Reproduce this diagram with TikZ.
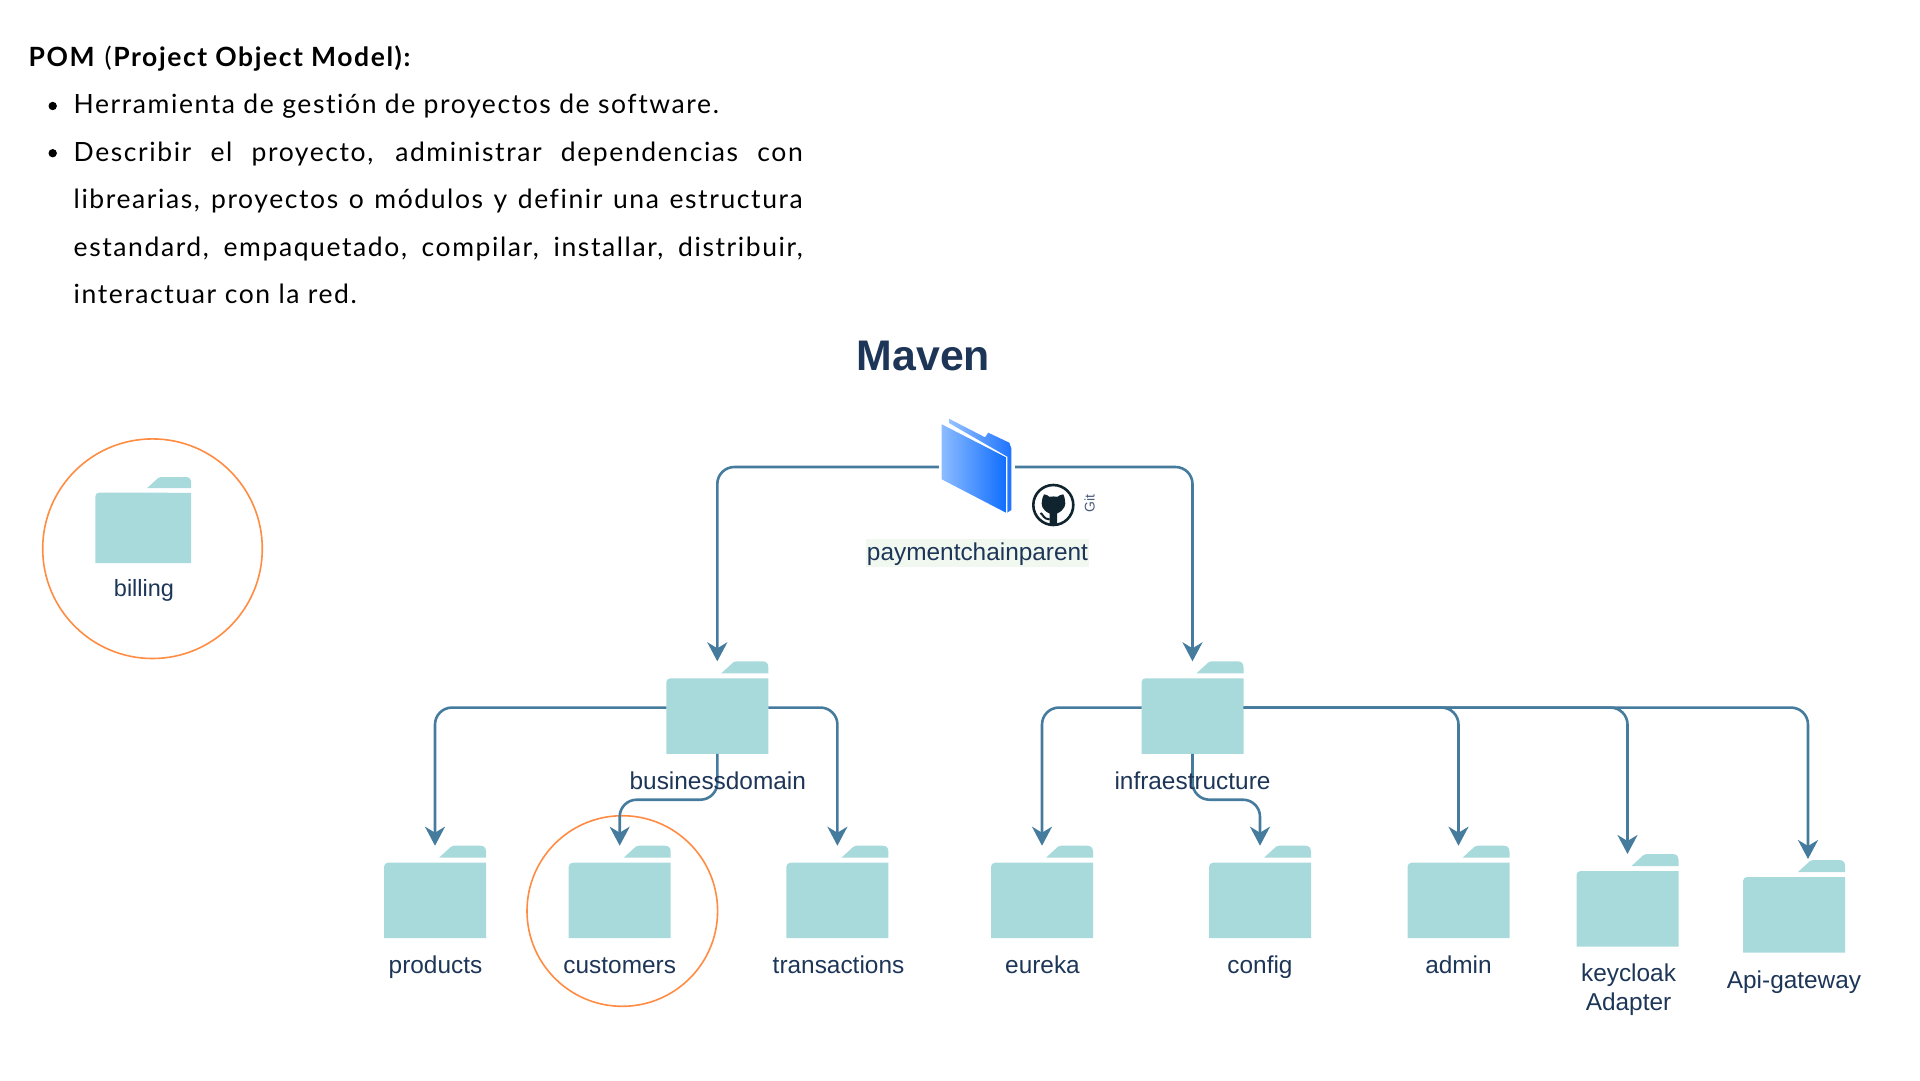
\documentclass[tikz,border=0pt]{standalone}
\usepackage{fontspec}
\setmainfont{Liberation Sans}
\newfontfamily\bodyfont[LetterSpace=6,Ligatures=NoCommon]{Lato}
\usetikzlibrary{arrows.meta}
\definecolor{fold}{HTML}{A8DADC}
\definecolor{conn}{HTML}{457B9D}
\definecolor{ink}{HTML}{1D3557}
\definecolor{ring}{HTML}{FF8C42}
\definecolor{hl}{HTML}{F0F8F0}
\definecolor{cat}{HTML}{10242F}
\tikzset{
  link/.style={draw=conn,line width=2.6pt,rounded corners=17pt,-{Stealth[length=19pt,width=20pt,inset=6pt]}},
  lbl/.style={text=ink,anchor=base,inner sep=0pt,font=\fontsize{24.4}{29}\selectfont,align=center},
  hit/.style={inner sep=0pt,outer sep=0pt,minimum width=#1},
  ringc/.style={draw=ring,line width=1.6pt},
  copy/.style={anchor=base west,inner sep=0pt,text=black,font=\bodyfont\fontsize{26.5}{47.2}\selectfont},
}
\newcommand{\foldericon}[5]{%
  \node[hit=#4*102pt,minimum height=#5*92.5pt] (#1) at (#2,#3+#5*46.25) {};
  \begin{scope}[shift={(#2,#3)},x=#4pt,y=-#5pt]
    \fill[fold] (-51,92.5) -- (-51,21) arc[start angle=180,end angle=90,radius=4pt] -- (51,17) -- (51,92.5) -- cycle;
    \fill[fold] (4,12) -- (16,1) .. controls (17,0) and (18,0) .. (19,0) -- (45,0) .. controls (49,0) and (51,2) .. (51,6) -- (51,12) -- cycle;
  \end{scope}}
\begin{document}
\begin{tikzpicture}[x=1pt,y=-1pt]
\useasboundingbox (0,0) rectangle (1920,1080);
% --- text block
\node[copy] (title) at (28.5,66) {\textbf{POM} (\textbf{Project Object Model}\textbf{)}\textbf{:}};
\fill[black] (52.7,106) circle[radius=4.2pt];
\fill[black] (52.7,153.2) circle[radius=4.2pt];
\node[copy] (one) at (73.5,113.3) {Herramienta de gestión de proyectos de software.};
\node[copy,text width=729pt,align=justify,anchor=north west] (two) at (73.5,142) {\leavevmode
Describir el proyecto, administrar dependencias con\linebreak
librearias, proyectos o módulos y definir una estructura\linebreak
estandard, empaquetado, compilar, installar, distribuir,\linebreak
interactuar con la red.};
% --- heading
\node[lbl,font=\bfseries\fontsize{42.8}{50}\selectfont] (maven) at (923.5,370) {Maven};
% --- highlighted circles
\draw[ringc] (152.5,548.7) circle[radius=109.8pt];
\draw[ringc] (622.3,911) circle[radius=95.3pt];
% --- folders
\foldericon{billing}{143.2}{477}{.94}{.93}
\foldericon{bd}{717.3}{661.3}{1}{1}
\foldericon{infra}{1192.5}{661.3}{1}{1}
\foldericon{prod}{435}{845.7}{1}{1}
\foldericon{cust}{619.7}{845.7}{1}{1}
\foldericon{trans}{837.4}{845.7}{1}{1}
\foldericon{eur}{1042}{845.7}{1}{1}
\foldericon{conf}{1260}{845.7}{1}{1}
\foldericon{adm}{1458.5}{845.7}{1}{1}
\foldericon{key}{1627.5}{854}{1}{1}
\foldericon{api}{1794}{860}{1}{1}
% --- root folder
\node[inner sep=0pt,minimum width=76pt,minimum height=100pt] (root) at (977,467) {};
\shade[left color={rgb,255:red,150;green,195;blue,255},right color={rgb,255:red,30;green,115;blue,255}]
  (949,418.7) -- (985,437.3) -- (988.3,432.7) -- (1009.3,442.7) -- (1011.3,448.3) -- (1011.3,510) -- (1007.3,512.7) -- (1007.3,456.7) -- (949,423) -- cycle;
\shade[left color={rgb,255:red,140;green,188;blue,255},right color={rgb,255:red,16;green,110;blue,255}]
  (941.7,424.3) -- (1006,457.3) -- (1006,512.7) -- (941.7,479.3) -- cycle;
% --- github mark
\node[circle,draw=cat,line width=2.6pt,minimum size=40pt,inner sep=0pt] (gh) at (1053.3,505) {};
\fill[cat] (1044,494.3) .. controls (1046.5,494.5) and (1048,495.6) .. (1049.5,496.8)
  .. controls (1052,496.3) and (1055,496.3) .. (1057.3,496.8)
  .. controls (1059,495.6) and (1061,494.5) .. (1063.3,494.3)
  .. controls (1064.6,497) and (1065,499) .. (1065,501)
  .. controls (1066,504) and (1065,510) .. (1057,513.5)
  -- (1057,525.5) -- (1049.6,525.5) -- (1049.6,513.5)
  .. controls (1041.5,510) and (1041,504) .. (1042,501)
  .. controls (1042,499) and (1042.6,497) .. (1044,494.3) -- cycle;
\draw[cat,line width=2pt] (1040.5,513) .. controls (1043,514) and (1043,519) .. (1049.6,519.5);
\node[lbl,font=\fontsize{14}{16}\selectfont,rotate=90,text=ink!80!white] (git) at (1094.5,503.5) {Git};
% --- labels
\node[lbl,fill=hl,minimum width=223pt,text depth=6pt,text height=21.5pt] (rootl) at (977.5,560.5) {paymentchainparent};
\node[lbl,font=\fontsize{23.5}{29}\selectfont] (l0) at (144,596.5) {billing};
\node[lbl] (l1) at (435.5,973.3) {products};
\node[lbl] (l2) at (619.7,973.3) {customers};
\node[lbl] (l3) at (838.5,973.3) {transactions};
\node[lbl] (l4) at (1042.5,973.3) {eureka};
\node[lbl] (l5) at (1260,973.3) {config};
\node[lbl] (l6) at (1458.5,973.3) {admin};
\node[lbl] (l7) at (1628.5,1010.7) {keycloak\\Adapter};
\node[lbl] (l8) at (1794,988.3) {Api-gateway};
% --- connectors
\coordinate (bdbend) at (717.3,799.7);
\coordinate (infrabend) at (1192.5,799.7);
\coordinate (apitip) at (1808,859);
\draw[link] (root.west) -| (bd.north);
\draw[link] (root.east) -| (infra.north);
\draw[link] (bd.west) -| (prod.north);
\draw[link] (bd.east) -| (trans.north);
\draw[link] (bd.south) -- (bdbend) -| (cust.north);
\draw[link] (infra.west) -| (eur.north);
\draw[link] (infra.south) -- (infrabend) -| (conf.north);
\draw[link] (infra.east) -| (adm.north);
\draw[link] (infra.east) -| (key.north);
\draw[link] (infra.east) -| (apitip);
% labels sit above the lines
\node[lbl] (l9) at (717.8,789) {businessdomain};
\node[lbl] (l10) at (1192.5,789) {infraestructure};
\end{tikzpicture}
\end{document}
